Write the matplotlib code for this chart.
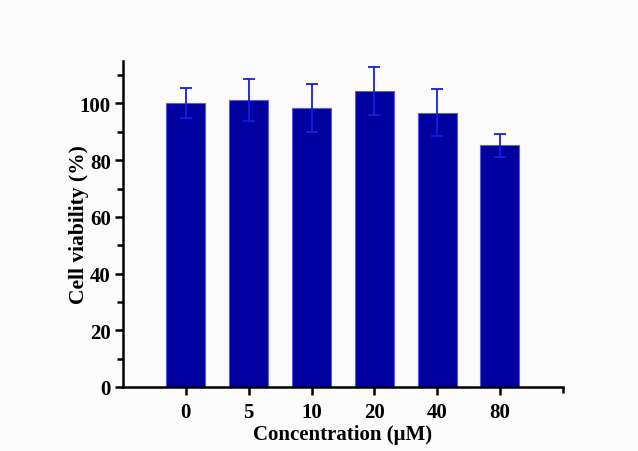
import numpy as np
import matplotlib.pyplot as plt
from matplotlib.ticker import MultipleLocator, FixedLocator

# data
concentrations = ['0', '5', '10', '20', '40', '80']
viability = [100.0, 101.1, 98.3, 104.5, 96.7, 85.2]
errors = [5.3, 7.4, 8.5, 8.5, 8.3, 4.2]

plt.rcParams['font.family'] = ['Liberation Serif', 'DejaVu Serif']
plt.rcParams['font.weight'] = 'bold'

fig = plt.figure(figsize=(6.38, 4.52), dpi=100)
fig.patch.set_facecolor('#fbfbfb')
ax = fig.add_axes([0.193, 0.1416, 0.689, 0.7214])
ax.set_facecolor('#fbfbfb')

x = np.arange(len(concentrations))
ax.bar(x, viability, width=0.62, color='#0000a0', edgecolor='#5a5ae6', linewidth=0.8,
       yerr=errors, ecolor='#1c1cd8', capsize=4, error_kw={'elinewidth': 1.3, 'capthick': 1.3},
       zorder=2)

ax.set_xlim(-1, 6)
ax.set_ylim(0, 115)
ax.set_xticks(x)
ax.set_xticklabels(concentrations)
ax.xaxis.set_minor_locator(FixedLocator([6]))
ax.yaxis.set_major_locator(MultipleLocator(20))
ax.yaxis.set_minor_locator(MultipleLocator(10))

for s in ['top', 'right']:
    ax.spines[s].set_visible(False)
for s in ['left', 'bottom']:
    ax.spines[s].set_linewidth(1.8)

ax.tick_params(axis='both', which='major', direction='out', length=6, width=1.8, labelsize=15, pad=3)
ax.tick_params(axis='both', which='minor', direction='out', length=4, width=1.8)
ax.tick_params(axis='x', which='major', pad=5)

ax.set_xlabel('Concentration (\u03bcM)', fontsize=15, fontweight='bold', labelpad=1)
ax.set_ylabel('Cell viability (%)', fontsize=15.5, fontweight='bold', labelpad=-7)

fig.savefig('out.png', dpi=100, facecolor=fig.get_facecolor())
